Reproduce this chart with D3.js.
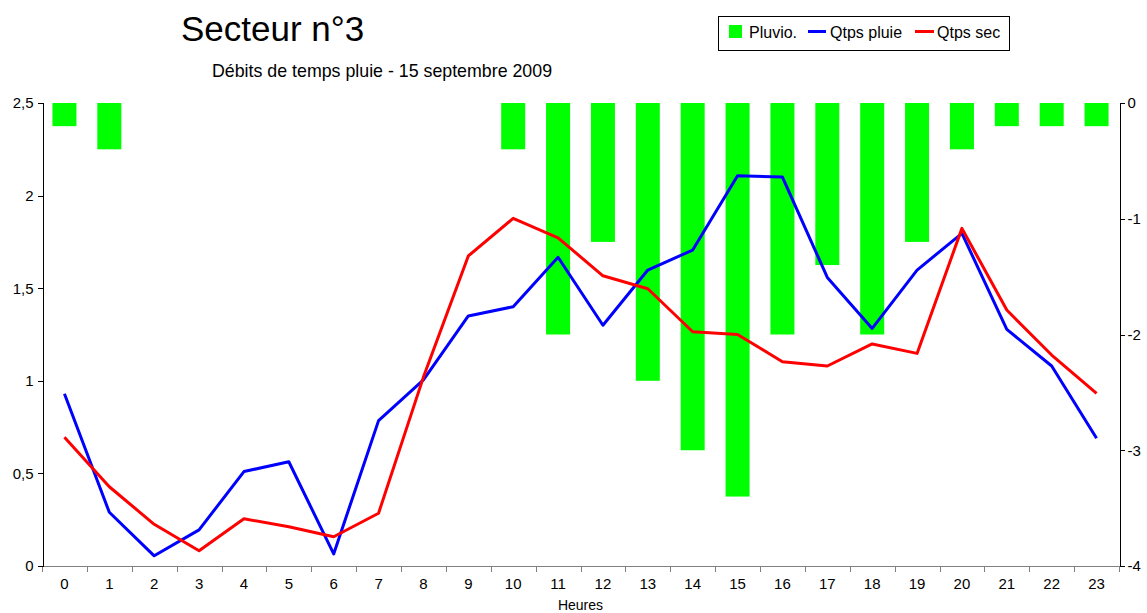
<!DOCTYPE html>
<html>
<head>
<meta charset="utf-8">
<script src="https://cdn.jsdelivr.net/npm/d3@7"></script>
<style>
    body { margin: 0; background: #fff; }
    svg { font-family: "Liberation Sans", Arial, sans-serif; }
    .axis path, .axis line { shape-rendering: crispEdges; }
</style>
</head>
<body>
<svg id="chart" width="1147" height="613"></svg>
<script>

let hours = d3.range(0, 24)
let pluvio = [-0.2, -0.4, 0, 0, 0, 0, 0, 0, 0, 0, -0.4, -2.0, -1.2, -2.4, -3.0, -3.4, -2.0, -1.4, -2.0, -1.2, -0.4, -0.2, -0.2, -0.2]
let qtps_pluie = [0.93, 0.29, 0.055, 0.195, 0.51, 0.563, 0.065, 0.785, 1.005, 1.35, 1.40, 1.667, 1.30, 1.598, 1.706, 2.107, 2.10, 1.558, 1.283, 1.598, 1.796, 1.278, 1.08, 0.69]
let qtps_sec = [0.695, 0.428, 0.225, 0.082, 0.255, 0.212, 0.158, 0.285, 1.02, 1.674, 1.877, 1.772, 1.567, 1.497, 1.265, 1.25, 1.103, 1.08, 1.199, 1.148, 1.823, 1.382, 1.139, 0.932]

let left_ticks = [0, 0.5, 1, 1.5, 2, 2.5]
let right_ticks = [0, -1, -2, -3, -4]

let plot = { left: 42, right: 1119, top: 103, bottom: 566 }

let svg = d3.select('#chart')

let x = d3.scaleBand().domain(hours).range([plot.left, plot.right]).paddingInner(0.465).paddingOuter(0.2325)
let y = d3.scaleLinear().domain([0, 2.5]).range([plot.bottom, plot.top])
let y2 = d3.scaleLinear().domain([-4, 0]).range([plot.bottom, plot.top])

let comma = (d) => String(d).replace('.', ',')

// bars (rain, right axis, hanging from 0)
svg.append('g')
    .selectAll('rect')
    .data(hours)
    .join('rect')
    .attr('x', (h) => x(h))
    .attr('y', y2(0))
    .attr('width', x.bandwidth())
    .attr('height', (h, i) => y2(pluvio[i]) - y2(0))
    .attr('fill', '#00ff00')

// lines
let line_for = (values) => d3.line()
    .x((h) => x(h) + x.bandwidth() / 2)
    .y((h, i) => y(values[i]))(hours)

svg.append('path').attr('d', line_for(qtps_pluie))
    .attr('fill', 'none').attr('stroke', '#0000ff').attr('stroke-width', 3).attr('stroke-linejoin', 'round')
svg.append('path').attr('d', line_for(qtps_sec))
    .attr('fill', 'none').attr('stroke', '#ff0000').attr('stroke-width', 3).attr('stroke-linejoin', 'round')

// bottom axis: ticks on the category boundaries
let bottom = svg.append('g').attr('class', 'axis')
bottom.append('line')
    .attr('x1', plot.left).attr('x2', plot.right)
    .attr('y1', plot.bottom + 0.5).attr('y2', plot.bottom + 0.5)
    .attr('stroke', '#808080')
bottom.selectAll('.tk')
    .data(hours.concat([24]))
    .join('line')
    .attr('class', 'tk')
    .attr('x1', (h) => Math.round(plot.left + h * x.step()) + 0.5)
    .attr('x2', (h) => Math.round(plot.left + h * x.step()) + 0.5)
    .attr('y1', plot.bottom).attr('y2', plot.bottom + 6)
    .attr('stroke', '#808080')
bottom.selectAll('text')
    .data(hours)
    .join('text')
    .attr('x', (h) => x(h) + x.bandwidth() / 2)
    .attr('y', 589)
    .attr('text-anchor', 'middle')
    .attr('font-size', 15)
    .text((h) => h)

// left axis
svg.append('g').attr('class', 'axis')
    .attr('transform', `translate(${plot.left + 0.5},0)`)
    .call(d3.axisLeft(y).tickValues(left_ticks).tickSize(5).tickPadding(4).tickFormat(comma))
    .call((g) => g.selectAll('text').attr('font-size', 15).attr('fill', '#000').style('font-family', '"Liberation Sans", Arial, sans-serif'))
    .call((g) => g.selectAll('path, line').attr('stroke', '#000'))

// right axis
svg.append('g').attr('class', 'axis')
    .attr('transform', `translate(${plot.right + 0.5},0)`)
    .call(d3.axisRight(y2).tickValues(right_ticks).tickSize(5).tickPadding(3).tickFormat((d) => d))
    .call((g) => g.selectAll('text').attr('font-size', 15).attr('fill', '#000').style('font-family', '"Liberation Sans", Arial, sans-serif'))
    .call((g) => g.selectAll('path, line').attr('stroke', '#000'))

// titles
svg.append('text')
    .attr('x', 181).attr('y', 41)
    .attr('font-size', 35)
    .text('Secteur n°3')

svg.append('text')
    .attr('x', 212).attr('y', 77)
    .attr('font-size', 17.8)
    .text('Débits de temps pluie - 15 septembre 2009')

svg.append('text')
    .attr('x', (plot.left + plot.right) / 2).attr('y', 610)
    .attr('text-anchor', 'middle')
    .attr('font-size', 14)
    .text('Heures')

// legend
let legend = svg.append('g')
legend.append('rect')
    .attr('x', 718.5).attr('y', 16.5).attr('width', 291).attr('height', 34)
    .attr('fill', '#fff').attr('stroke', '#000')
legend.append('rect')
    .attr('x', 729).attr('y', 25).attr('width', 13).attr('height', 13)
    .attr('fill', '#00ff00')
legend.append('text').attr('x', 749).attr('y', 38).attr('font-size', 16).text('Pluvio.')
legend.append('line')
    .attr('x1', 808).attr('x2', 826).attr('y1', 31.5).attr('y2', 31.5)
    .attr('stroke', '#0000ff').attr('stroke-width', 3)
legend.append('text').attr('x', 830).attr('y', 38).attr('font-size', 16).text('Qtps pluie')
legend.append('line')
    .attr('x1', 915).attr('x2', 934).attr('y1', 31.5).attr('y2', 31.5)
    .attr('stroke', '#ff0000').attr('stroke-width', 3)
legend.append('text').attr('x', 937).attr('y', 38).attr('font-size', 16).text('Qtps sec')

</script>
</body>
</html>
